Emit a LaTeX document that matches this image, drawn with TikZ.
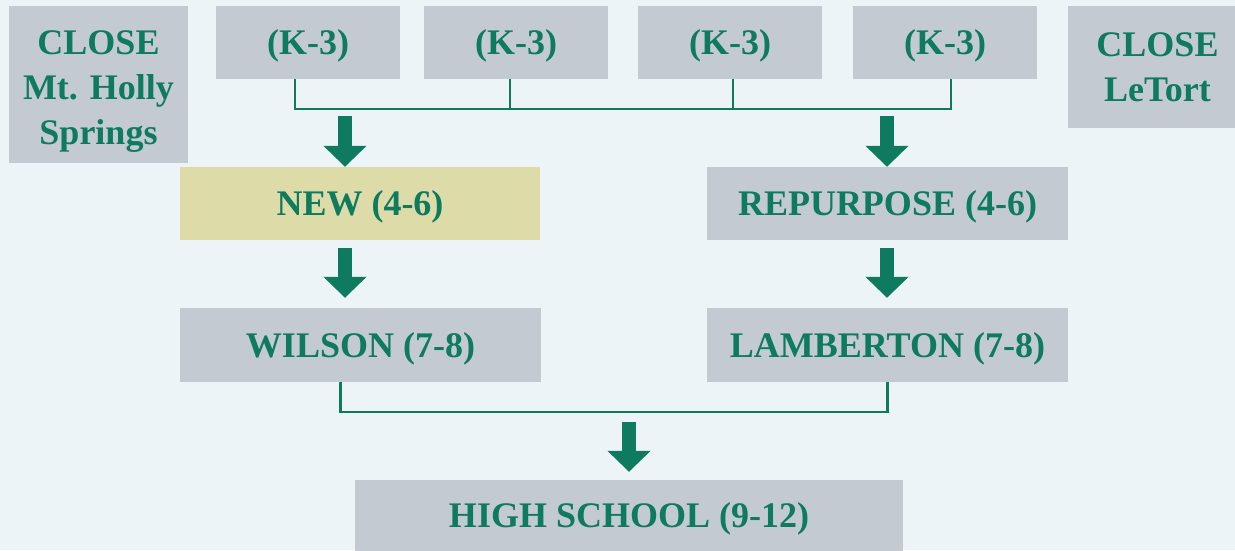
\documentclass[tikz,border=0pt]{standalone}
\usepackage{fontspec}
\setmainfont{Liberation Serif}
\usetikzlibrary{arrows.meta}
\definecolor{bg}{HTML}{ECF4F7}
\definecolor{boxgray}{HTML}{C3CAD2}
\definecolor{boxyellow}{HTML}{DDDBA8}
\definecolor{schoolgreen}{HTML}{0E7B5F}
\begin{document}
\begin{tikzpicture}[x=1pt,y=-1pt,
  basebox/.style={fill=boxgray, draw=none, inner sep=0pt, text=schoolgreen,
    font=\fontsize{36}{45}\selectfont\bfseries, align=center},
  box/.style={basebox, text height=24pt, text depth=0pt},
  multibox/.style={basebox},
  newbox/.style={box, fill=boxyellow},
  conn/.style={draw=schoolgreen, line width=2.2pt},
  bigarrow/.style={draw=schoolgreen, line width=14pt,
    -{Triangle[width=42pt,length=21pt]}}]
\useasboundingbox (0,0) rectangle (1235,550);
\clip (0,0) rectangle (1235,550);
\fill[bg] (0,0) rectangle (1235,550);

\node[multibox, minimum width=179pt, minimum height=157pt] (holly) at (98.5,84.5) {\rule{0pt}{38pt}CLOSE\\Mt. Holly\\Springs};
\node[box, minimum width=184pt, minimum height=73pt] (k1) at (308,42.5) {(K-3)};
\node[box, minimum width=184pt, minimum height=73pt] (k2) at (516,42.5) {(K-3)};
\node[box, minimum width=184pt, minimum height=73pt] (k3) at (730,42.5) {(K-3)};
\node[box, minimum width=184pt, minimum height=73pt] (k4) at (945,42.5) {(K-3)};
\node[multibox, minimum width=179pt, minimum height=122pt] (letort) at (1157.5,67) {CLOSE\\LeTort};

\node[newbox, minimum width=360pt, minimum height=73pt] (new) at (360,203.5) {NEW (4-6)};
\node[box, minimum width=361pt, minimum height=73pt] (rep) at (887.5,203.5) {REPURPOSE (4-6)};
\node[box, minimum width=361pt, minimum height=74pt] (wilson) at (360.5,345) {WILSON (7-8)};
\node[box, minimum width=361pt, minimum height=74pt] (lamb) at (887.5,345) {LAMBERTON (7-8)};
\node[box, minimum width=548pt, minimum height=71pt] (hs) at (629,515.5) {HIGH SCHOOL (9-12)};

% top connector
\draw[conn] ([xshift=-13pt]k1.south) -- ++(0,30) -| ([xshift=6pt]k4.south);
\draw[conn] ([xshift=-6pt]k2.south) -- ++(0,30);
\draw[conn] ([xshift=3pt]k3.south) -- ++(0,30);

% bottom connector
\draw[conn] ([xshift=-20pt]wilson.south) -- ++(0,30) -| (lamb.south);

% arrows
\coordinate (a1) at (345,116);
\coordinate (a2) at (887,116);
\coordinate (a3) at (629,422);
\draw[bigarrow] (a1) -- (a1 |- new.north);
\draw[bigarrow] (a2) -- (a2 |- rep.north);
\draw[bigarrow, shorten <=8pt, shorten >=10pt] ([xshift=-15pt]new.south) -- ([xshift=-15pt]new.south |- wilson.north);
\draw[bigarrow, shorten <=8pt, shorten >=10pt] ([xshift=-0.5pt]rep.south) -- ([xshift=-0.5pt]rep.south |- lamb.north);
\draw[bigarrow, shorten >=8pt] (a3) -- (a3 |- hs.north);
\end{tikzpicture}
\end{document}
